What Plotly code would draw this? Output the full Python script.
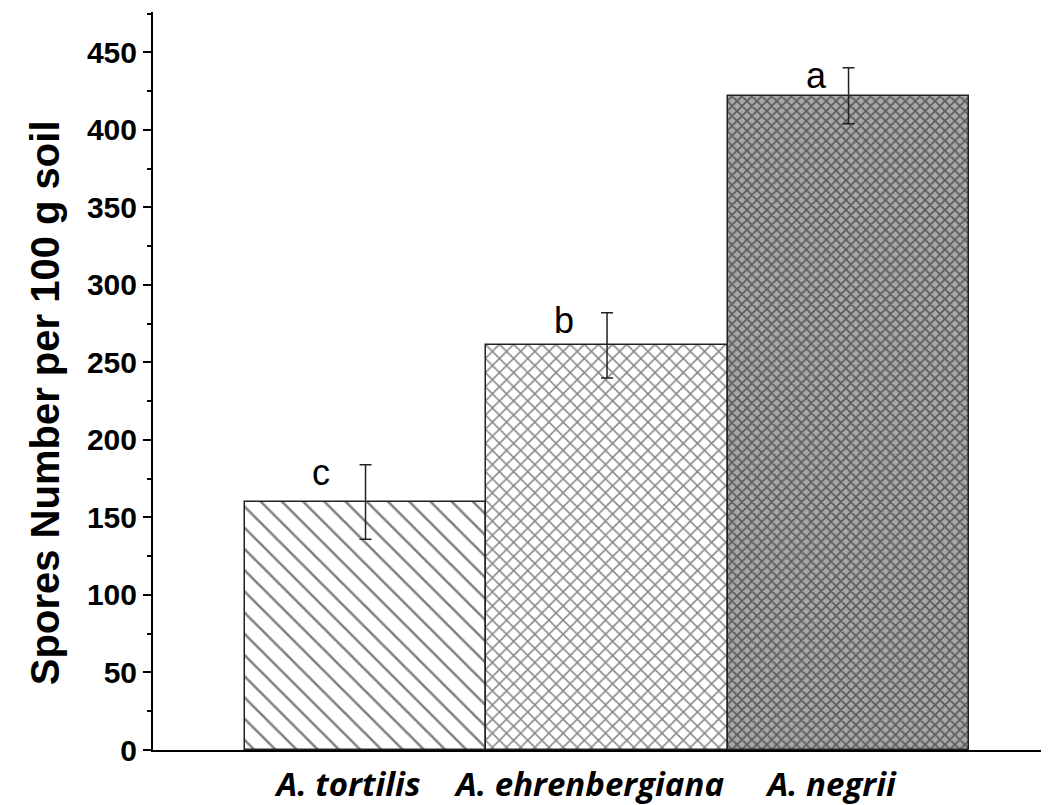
import plotly.graph_objects as go

categories = ["<i>A. tortilis</i>", "<i>A. ehrenbergiana</i>", "<i>A. negrii</i>"]
means = [160, 261, 422]
errors = [24, 21, 18]
letters = ["c", "b", "a"]
tick_vals = [0, 50, 100, 150, 200, 250, 300, 350, 400, 450]

# styling (pixel offsets for the significance letters)
letter_xshift = [-45, -43, -32]

patterns = [
    dict(shape="\\", size=15, solidity=0.17, fgcolor="#000000", bgcolor="white", fillmode="overlay"),
    dict(shape="x", size=10, solidity=0.28, fgcolor="#111111", bgcolor="white", fillmode="overlay"),
    dict(shape="x", size=7, solidity=0.45, fgcolor="#111111", bgcolor="#a8a8a8", fillmode="overlay"),
]

fig = go.Figure()
for i in range(len(categories)):
    fig.add_trace(go.Bar(
        x=[i], y=[means[i]],
        width=1.0,
        marker=dict(color="white", line=dict(color="#222222", width=1.5), pattern=patterns[i]),
        error_y=dict(type="data", array=[errors[i]], visible=True, color="#222222", thickness=1.5, width=6),
        showlegend=False,
    ))
    fig.add_annotation(
        x=i, y=means[i] + errors[i], text=letters[i], showarrow=False,
        xanchor="center", yanchor="bottom", xshift=letter_xshift[i], yshift=-30,
        font=dict(family="Arial, Liberation Sans", size=36, color="black"),
    )

fig.add_annotation(
    xref="paper", yref="paper", x=(45 - 153) / 896, y=0.47,
    text="<b>Spores Number per 100 g soil</b>", showarrow=False, textangle=-90,
    xanchor="center", yanchor="middle",
    font=dict(family="Arial, Liberation Sans", size=40, color="black"),
)

# page body has an 8px margin: shrink the figure so the plot sits where the reference does
fig.update_layout(
    width=1041, height=797,
    margin=dict(l=145, r=0, t=4, b=55),
    paper_bgcolor="white", plot_bgcolor="white",
    bargap=0,
)
fig.update_xaxes(
    range=[-0.88, 2.83], automargin=False,
    tickvals=[0, 1, 2], ticktext=categories,
    showline=True, linecolor="black", linewidth=2,
    ticks="", showgrid=False, zeroline=False,
    ticklabelshift=-17, ticklabelstandoff=4,
    tickfont=dict(family="Open Sans", size=33, color="black", weight="bold"),
)
fig.update_yaxes(
    range=[0, 476], automargin=False,
    tickvals=tick_vals,
    showline=True, linecolor="black", linewidth=2,
    ticks="outside", ticklen=8, tickwidth=2, tickcolor="black",
    minor=dict(dtick=25, tick0=0, ticks="outside", ticklen=4, tickwidth=1.5, tickcolor="black"),
    showgrid=False, zeroline=False,
    tickfont=dict(family="Arial, Liberation Sans", size=30, color="black", weight="bold"),
)

fig.write_html("out.html", post_script="document.body.style.overflow='hidden';")
